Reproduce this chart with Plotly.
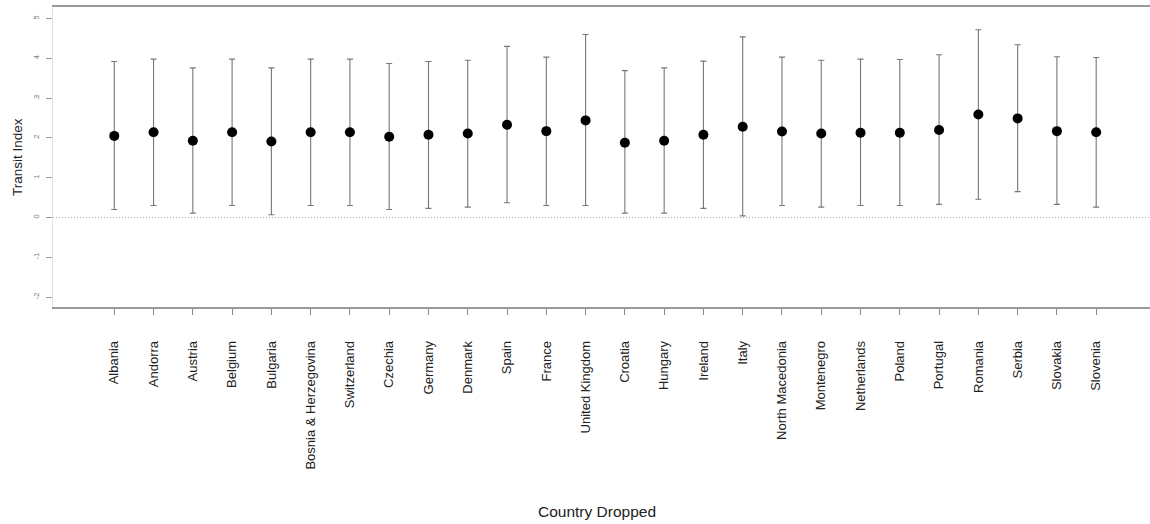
import plotly.graph_objects as go

# Leave-one-out estimates of the transit index with their intervals
countries = [
    "Albania", "Andorra", "Austria", "Belgium", "Bulgaria", "Bosnia & Herzegovina",
    "Switzerland", "Czechia", "Germany", "Denmark", "Spain", "France",
    "United Kingdom", "Croatia", "Hungary", "Ireland", "Italy", "North Macedonia",
    "Montenegro", "Netherlands", "Poland", "Portugal", "Romania", "Serbia",
    "Slovakia", "Slovenia",
]
estimate = [
    2.05, 2.14, 1.93, 2.14, 1.91, 2.14,
    2.14, 2.03, 2.08, 2.11, 2.33, 2.17,
    2.44, 1.88, 1.93, 2.08, 2.28, 2.16,
    2.11, 2.13, 2.13, 2.20, 2.59, 2.49,
    2.17, 2.14,
]
upper = [
    3.92, 3.98, 3.76, 3.98, 3.76, 3.98,
    3.98, 3.87, 3.92, 3.95, 4.30, 4.03,
    4.60, 3.69, 3.76, 3.93, 4.54, 4.03,
    3.95, 3.98, 3.97, 4.09, 4.72, 4.34,
    4.04, 4.02,
]
lower = [
    0.20, 0.30, 0.11, 0.30, 0.07, 0.30,
    0.30, 0.20, 0.23, 0.26, 0.37, 0.30,
    0.30, 0.11, 0.11, 0.23, 0.04, 0.30,
    0.26, 0.30, 0.30, 0.33, 0.46, 0.65,
    0.33, 0.26,
]
y_ticks = [-2, -1, 0, 1, 2, 3, 4, 5]

err_plus = [u - e for u, e in zip(upper, estimate)]
err_minus = [e - l for e, l in zip(estimate, lower)]

FONT = "Liberation Sans, Arial, sans-serif"

fig = go.Figure()
fig.add_trace(go.Scatter(
    x=countries,
    y=estimate,
    mode="markers",
    marker=dict(color="black", size=10, line=dict(width=0)),
    error_y=dict(
        type="data", symmetric=False,
        array=err_plus, arrayminus=err_minus,
        color="#777777", thickness=1.1, width=3,
    ),
    showlegend=False,
))

# dotted reference line at zero
fig.add_shape(
    type="line", xref="paper", yref="y", x0=0, x1=1, y0=0, y1=0,
    line=dict(color="#a8a8a8", width=1, dash="1px,2px"),
)

fig.add_annotation(
    text="Country Dropped", xref="paper", yref="paper",
    x=0.496, y=0, yshift=-204, showarrow=False,
    xanchor="center", yanchor="middle",
    font=dict(family=FONT, size=15.5, color="#222"),
)
fig.add_annotation(
    text="Transit Index", xref="paper", yref="paper",
    x=-0.0328, y=0.5, textangle=-90, showarrow=False,
    xanchor="center", yanchor="middle",
    font=dict(family=FONT, size=13.5, color="#222"),
)

fig.update_layout(
    width=1150, height=524,
    margin=dict(l=53, r=0, t=7, b=217),
    paper_bgcolor="white", plot_bgcolor="white",
    font=dict(family=FONT, color="#222"),
    xaxis=dict(
        type="category",
        categoryorder="array", categoryarray=countries,
        range=[-1.56, 26.37],
        showgrid=False, zeroline=False,
        showline=True, mirror=True, linecolor="#9a9a9a", linewidth=1.5,
        ticks="outside", ticklen=6, tickcolor="#8a8a8a", tickwidth=1,
        tickangle=-90, ticklabelstandoff=21,
        tickfont=dict(family=FONT, size=13, color="#222"),
    ),
    yaxis=dict(
        range=[-2.25, 5.29],
        tickmode="array", tickvals=y_ticks, ticktext=[str(v) for v in y_ticks],
        showgrid=False, zeroline=False,
        showline=True, linecolor="#e2e2e2", linewidth=1,
        ticks="outside", ticklen=6, tickcolor="#9a9a9a", tickwidth=1,
        tickangle=-90, ticklabelstandoff=4,
        tickfont=dict(family=FONT, size=7.5, color="#777"),
    ),
)

fig.write_html("out.html")
